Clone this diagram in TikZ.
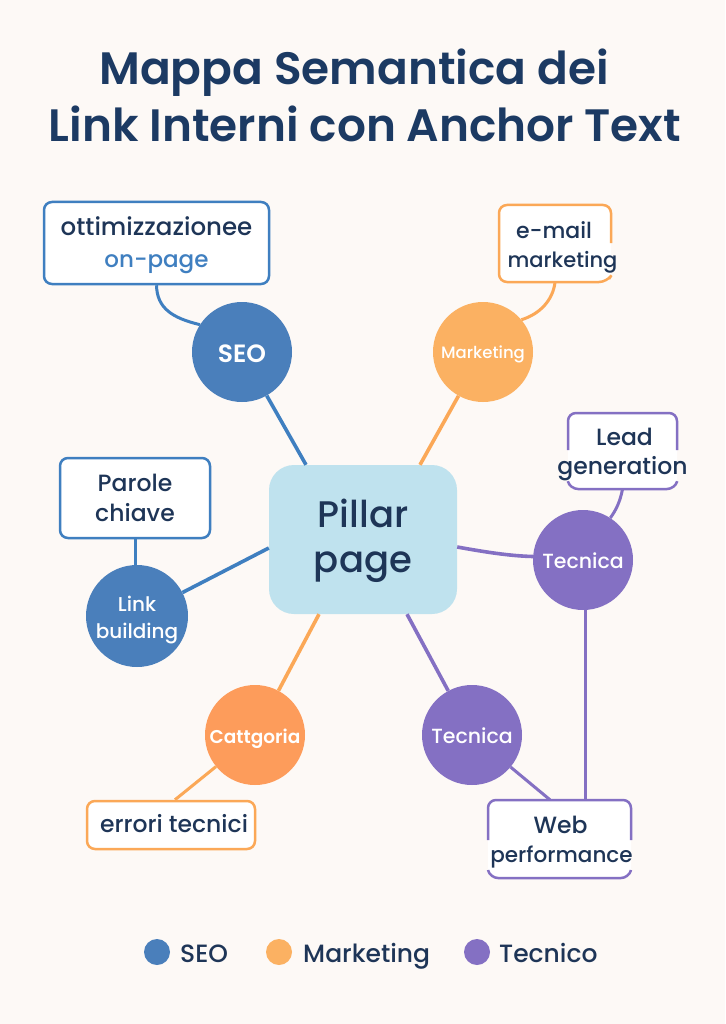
\documentclass[tikz,border=0pt]{standalone}
\usepackage{fontspec}
\setmainfont{Poppins}
\newfontfamily\medfont{Poppins Medium}
\newfontfamily\semifont{Poppins SemiBold}
\newcommand{\fsz}[1]{\fontsize{#1}{#1}\selectfont}
\definecolor{bgc}{HTML}{FDF9F6}
\definecolor{ink}{HTML}{1E3557}
\definecolor{titlec}{HTML}{1C3A63}
\definecolor{blu}{HTML}{4A7FBB}
\definecolor{blul}{HTML}{3F7FC0}
\definecolor{ora}{HTML}{FBB162}
\definecolor{oral}{HTML}{FBA857}
\definecolor{ora2}{HTML}{FD9C5B}
\definecolor{pur}{HTML}{8470C3}
\definecolor{pil}{HTML}{BFE2EE}
\tikzset{
  x=1pt,y=-1pt,
  hub/.style={circle,minimum size=100pt,inner sep=0pt,text=white,align=center,text depth=0pt},
  boxlabel/.style={anchor=base,text=ink,inner sep=0pt},
  framebox/.style={rectangle,rounded corners=8pt,fill=white,inner sep=0pt},
  conn/.style={line width=3.6pt},
  thinconn/.style={line width=3pt},
  border/.style={line width=2.5pt,rounded corners=8pt},
  keydot/.style={circle,minimum size=26pt,inner sep=0pt},
  keytext/.style={anchor=base west,text=ink,inner sep=0pt,font=\medfont\fsz{25}},
  titleline/.style={anchor=base,text=titlec,inner sep=0pt,font=\semifont\fsz{45.4}},
}
\begin{document}
\begin{tikzpicture}
\path[use as bounding box,fill=bgc] (0,0) rectangle (725,1024);
\node[titleline] (t1) at (354,85) {Mappa Semantica dei};
\node[titleline] (t2) at (365,142) {Link Interni con Anchor Text};
% boxes
\node[framebox,draw=blul,line width=2.5pt,minimum width=225pt,minimum height=82pt] (b1) at (156.5,243) {};
\node[framebox,draw=blul,line width=2.5pt,minimum width=150pt,minimum height=80pt] (b2) at (135,498) {};
\node[framebox,draw=oral,line width=2.5pt,minimum width=168pt,minimum height=48pt] (b3) at (171,825) {};
\node[framebox,minimum width=112pt,minimum height=77pt] (b4) at (555,243.5) {};
\node[framebox,minimum width=109pt,minimum height=76pt] (b5) at (622.5,451) {};
\node[framebox,minimum width=143pt,minimum height=78pt] (b6) at (559.5,839) {};
% open borders
\draw[border,draw=oral] (611,243) -- (611,205) -- (499,205) -- (499,282) -- (607,282) -- (609,279);
\draw[border,draw=pur] (568,450) -- (568,413) -- (677,413) -- (677,450);
\draw[border,draw=pur] (568,482) -- (570,489) -- (675,489) -- (677,482);
\draw[border,draw=pur] (488,840) -- (488,800) -- (631,800) -- (631,840);
\draw[border,draw=pur] (488,870) -- (490,878) -- (629,878) -- (631,870);
% box labels
\node[boxlabel,font=\medfont\fsz{24.5}] (l1a) at (156.5,236) {ottimizzazionee};
\node[boxlabel,text=blul,font=\medfont\fsz{23}] (l1b) at (156.5,267) {on-page};
\node[boxlabel,font=\medfont\fsz{23.5}] (l2a) at (135,491) {Parole};
\node[boxlabel,font=\medfont\fsz{23.5}] (l2b) at (135,521) {chiave};
\node[boxlabel,font=\medfont\fsz{23.5}] (l3) at (174,832) {errori tecnici};
\node[boxlabel,font=\medfont\fsz{22}] (l4a) at (554,238) {e-mail};
\node[boxlabel,font=\medfont\fsz{21}] (l4b) at (562.5,267) {marketing};
\node[boxlabel,font=\medfont\fsz{23.5}] (l5a) at (624.5,445) {Lead};
\node[boxlabel,font=\medfont\fsz{23.5}] (l5b) at (622.5,474) {generation};
\node[boxlabel,font=\medfont\fsz{23.5}] (l6a) at (560.5,833) {Web};
\node[boxlabel,font=\medfont\fsz{21.5}] (l6b) at (561.5,862) {performance};
% hubs
\node[rectangle,rounded corners=25pt,fill=pil,minimum width=188pt,minimum height=149pt,inner sep=0pt] (pillar) at (363,539.5) {};
\node[text=ink,align=center,inner sep=0pt,font=\medfont\fontsize{37}{45}\selectfont] (pillart) at (363,540.5) {Pillar\\page};
\node[hub,fill=blu,font=\semifont\fsz{25},text height=20pt] (seo) at (242,352) {SEO};
\node[hub,fill=ora,font=\medfont\fsz{16.5},text height=12pt] (mkt) at (483,352) {Marketing};
\node[hub,fill=pur,font=\medfont\fsz{20.5},text height=16pt] (tecr) at (583,560) {Tecnica};
\node[hub,fill=pur,font=\medfont\fsz{20.5},text height=16pt] (tecb) at (472,735) {Tecnica};
\node[hub,fill=ora2,font=\semifont\fsz{18.5},text height=16pt] (cat) at (255,735) {Cattgoria};
\node[hub,fill=blu,minimum size=102pt] (link) at (137,616) {};
\node[text=white,align=center,inner sep=0pt,font=\medfont\fontsize{20}{27}\selectfont] (linkt) at (137,620) {Link\\building};
% connectors
\draw[conn,draw=blul] (seo) -- (pillar.north -| 306,0);
\draw[conn,draw=oral] (mkt) -- (pillar.north -| 420,0);
\draw[conn,draw=pur] (pillar.south -| 407,0) -- (tecb);
\draw[conn,draw=oral] (pillar.south -| 319,0) -- (cat);
\draw[conn,draw=blul] (link) -- (pillar.west |- 0,548);
\draw[conn,draw=pur] (pillar.east |- 0,547) .. controls (485,552) and (510,556) .. (tecr.176);
\draw[thinconn,draw=blul] (b1.south) .. controls (157,308) and (172,318) .. (seo.147);
\draw[thinconn,draw=oral] (b4.south) .. controls (553,300) and (540,314) .. (mkt.40);
\draw[thinconn,draw=pur] (b5.south) .. controls (620,502) and (616,510) .. (tecr.57);
\draw[thinconn,draw=pur] (tecb) -- (b6.north -| 550,0);
\draw[thinconn,draw=pur] (tecr.south -| 585,0) -- (b6.north -| 585,0);
\draw[thinconn,draw=blul] (b2.south) -- (link.north -| b2.south);
\draw[thinconn,draw=oral] (cat) -- (b3.north -| 175,0);
% legend
\node[keydot,fill=blu] (k1) at (157,952) {};
\node[keydot,fill=ora] (k2) at (279,952) {};
\node[keydot,fill=pur] (k3) at (477,952) {};
\node[keytext] (k1t) at (180,962) {SEO};
\node[keytext] (k2t) at (303,962) {Marketing};
\node[keytext] (k3t) at (499,962) {Tecnico};
\end{tikzpicture}
\end{document}
